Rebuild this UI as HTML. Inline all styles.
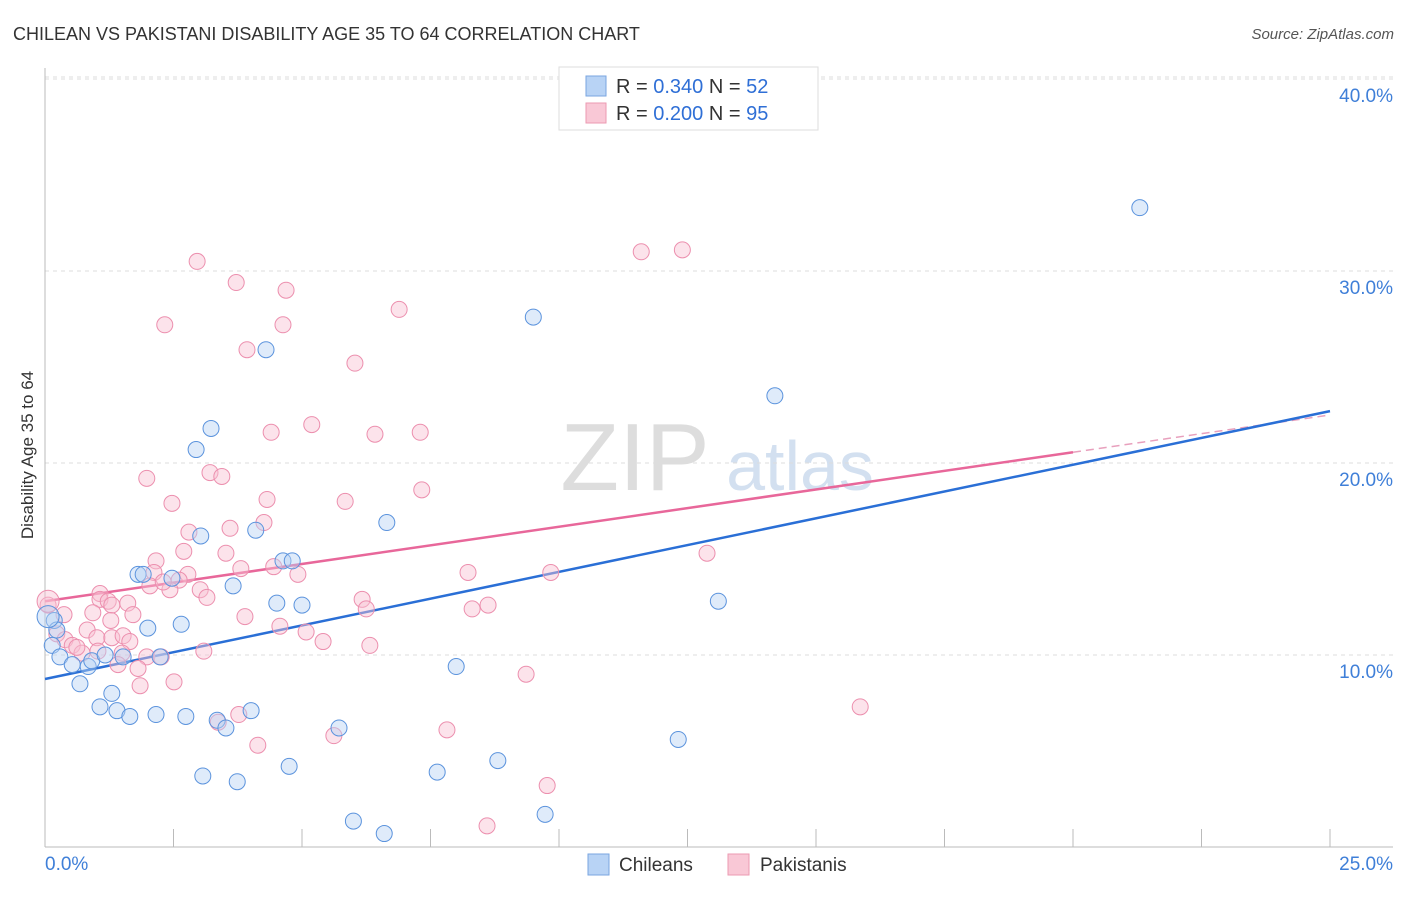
<!DOCTYPE html>
<html><head><meta charset="utf-8"><style>
body{margin:0;background:#fff;font-family:"Liberation Sans",sans-serif;}
svg text{font-family:"Liberation Sans",sans-serif;}
</style></head><body>
<svg id="chart" width="1406" height="892" xmlns="http://www.w3.org/2000/svg">
<text x="13" y="40" font-size="18" fill="#333">CHILEAN VS PAKISTANI DISABILITY AGE 35 TO 64 CORRELATION CHART</text>
<text x="1394" y="39" font-size="15" fill="#555" text-anchor="end" font-style="italic">Source: ZipAtlas.com</text>
<text transform="translate(33,455) rotate(-90)" font-size="17" fill="#333" text-anchor="middle">Disability Age 35 to 64</text>
<g><text x="635" y="490" font-size="96" fill="#ddd" font-family="Liberation Serif" text-anchor="middle">ZIP</text><text x="800" y="490" font-size="70" fill="#d3e0f0" text-anchor="middle">atlas</text></g>
<g id="grid"></g><g id="axes"></g><g id="lines"></g><g id="pts"></g>
<g>
<rect x="559" y="67" width="259" height="63" fill="#fff" stroke="#ddd"/>
<rect x="586" y="76" width="20" height="20" fill="#b8d3f5" stroke="#7aa6e0"/>
<text x="616" y="93" font-size="20" fill="#333">R = <tspan fill="#2f6fd6">0.340</tspan>   N = <tspan fill="#2f6fd6">52</tspan></text>
<rect x="586" y="103" width="20" height="20" fill="#f9c8d6" stroke="#ec9ab2"/>
<text x="616" y="120" font-size="20" fill="#333">R = <tspan fill="#2f6fd6">0.200</tspan>   N = <tspan fill="#2f6fd6">95</tspan></text>
</g>
<g>
<rect x="588" y="854" width="21" height="21" fill="#b8d3f5" stroke="#7aa6e0"/><text x="619" y="871" font-size="19" fill="#333">Chileans</text>
<rect x="728" y="854" width="21" height="21" fill="#f9c8d6" stroke="#ec9ab2"/><text x="760" y="871" font-size="19" fill="#333">Pakistanis</text>
</g>
</svg>
<script>
const yTicks=[10,20,30,40];
const yTickLabels=["10.0%","20.0%","30.0%","40.0%"];
const xTicks=[0,2.5,5,7.5,10,12.5,15,17.5,20,22.5,25];
const blueLine=[8.75,22.7];
const pinkLine=[12.8,22.5];
const pinkSolidEnd=20;
const chileansX=[21.3,9.5,4.3,14.2,3.23,2.94,6.65,4.1,3.03,4.63,4.81,1.81,1.91,2.47,3.66,4.51,5.0,13.1,2.65,2.0,0.18,0.23,0.14,0.29,0.53,0.84,0.91,1.17,1.52,2.24,8.0,0.68,1.3,1.07,1.4,1.65,2.16,2.74,4.01,3.35,3.52,5.72,12.32,8.81,4.75,7.63,3.07,3.74,9.73,6.0,6.6,0.06];
const chileansY=[33.3,27.6,25.9,23.5,21.8,20.7,16.9,16.5,16.2,14.9,14.9,14.2,14.2,14.0,13.6,12.7,12.6,12.8,11.6,11.4,11.8,11.3,10.5,9.9,9.5,9.4,9.7,10.0,9.9,9.9,9.4,8.5,8.0,7.3,7.1,6.8,6.9,6.8,7.1,6.6,6.2,6.2,5.6,4.5,4.2,3.9,3.7,3.4,1.7,1.35,0.7,12.0];
const pakistanisX=[12.4,11.6,2.96,3.72,4.69,6.89,2.33,4.63,3.93,6.03,5.19,4.4,7.3,6.42,1.98,3.21,3.44,4.32,7.33,5.84,2.47,4.26,3.6,2.8,2.16,2.7,3.52,12.88,4.45,4.92,3.81,8.23,9.84,2.78,2.12,2.61,2.04,2.43,2.3,3.02,3.15,1.07,1.07,1.23,1.61,1.3,0.93,1.71,8.62,6.17,6.25,8.31,3.89,1.28,4.57,0.06,0.37,0.82,1.01,1.3,1.52,1.65,5.08,5.41,6.32,0.23,0.39,0.53,0.72,0.62,1.03,1.5,1.98,2.26,1.81,1.42,3.09,1.85,2.51,9.36,15.86,3.77,3.37,7.82,5.62,4.14,9.77,8.6,0.06];
const pakistanisY=[31.1,31.0,30.5,29.4,29.0,28.0,27.2,27.2,25.9,25.2,22.0,21.6,21.6,21.5,19.2,19.5,19.3,18.1,18.6,18.0,17.9,16.9,16.6,16.4,14.9,15.4,15.3,15.3,14.6,14.2,14.5,14.3,14.3,14.2,14.3,13.9,13.6,13.4,13.8,13.4,13.0,13.2,12.9,12.8,12.7,12.6,12.2,12.1,12.6,12.9,12.4,12.4,12.0,11.8,11.5,12.6,12.1,11.3,10.9,10.9,11.0,10.7,11.2,10.7,10.5,11.1,10.8,10.5,10.1,10.4,10.2,10.1,9.9,9.9,9.3,9.5,10.2,8.4,8.6,9.0,7.3,6.9,6.5,6.1,5.8,5.3,3.2,1.1,12.8];
const NS="http://www.w3.org/2000/svg";
const X=v=>45+v*51.4, Y=v=>847-v*19.2;
function mk(t,a,p){const e=document.createElementNS(NS,t);for(const k in a)e.setAttribute(k,a[k]);p.appendChild(e);return e;}
const grid=document.getElementById('grid'),axes=document.getElementById('axes'),lines=document.getElementById('lines'),pts=document.getElementById('pts');
yTicks.forEach((t,i)=>{
 const l=mk('line',{x1:45,x2:1393,y1:Y(t),y2:Y(t),stroke:'#ddd','stroke-dasharray':'4,4'},grid);
 
 
 const tx=mk('text',{x:1393,y:Y(t)+23,'font-size':19,fill:'#3f7fd8','text-anchor':'end'},axes);tx.textContent=yTickLabels[i];
 
 
});
const tl=mk('line',{x1:45,x2:1393,y1:Y(40)-2,y2:Y(40)-2,stroke:'#ddd','stroke-dasharray':'4,4'},grid);


const ax=mk('line',{x1:45,x2:1393,y1:847,y2:847,stroke:'#bbb'},axes);


const ay=mk('line',{x1:45,x2:45,y1:68,y2:847,stroke:'#bbb'},axes);


xTicks.forEach(t=>{const l=mk('line',{x1:X(t),x2:X(t),y1:829,y2:847,stroke:'#bbb'},axes);
 
 });
let t0=mk('text',{x:45,y:870,'font-size':19,fill:'#3f7fd8'},axes);t0.textContent='0.0%';


let t1=mk('text',{x:1393,y:870,'font-size':19,fill:'#3f7fd8','text-anchor':'end'},axes);t1.textContent='25.0%';


function drawPts(xs,ys,fill,stroke,name){xs.forEach((x,i)=>{
 const c=mk('circle',{cx:X(x),cy:Y(ys[i]),r:(i==xs.length-1?11:8),fill:fill,'fill-opacity':0.45,stroke:stroke,'stroke-width':1},pts);
 
 });}
drawPts(pakistanisX,pakistanisY,'#f9c0d2','#ec8fae','pakistani-point');
drawPts(chileansX,chileansY,'#b8d3f5','#5b93dd','chilean-point');
const pv=v=>pinkLine[0]+(pinkLine[1]-pinkLine[0])*v/25;
let p1=mk('line',{x1:X(0),y1:Y(pinkLine[0]),x2:X(pinkSolidEnd),y2:Y(pv(pinkSolidEnd)),stroke:'#e8679a','stroke-width':2.5},lines);


let p2=mk('line',{x1:X(pinkSolidEnd),y1:Y(pv(pinkSolidEnd)),x2:X(25),y2:Y(pinkLine[1]),stroke:'#e8a0bd','stroke-width':1.5,'stroke-dasharray':'8,5'},lines);


let b=mk('line',{x1:X(0),y1:Y(blueLine[0]),x2:X(25),y2:Y(blueLine[1]),stroke:'#2a6fd6','stroke-width':2.5},lines);


</script>
</body></html>
